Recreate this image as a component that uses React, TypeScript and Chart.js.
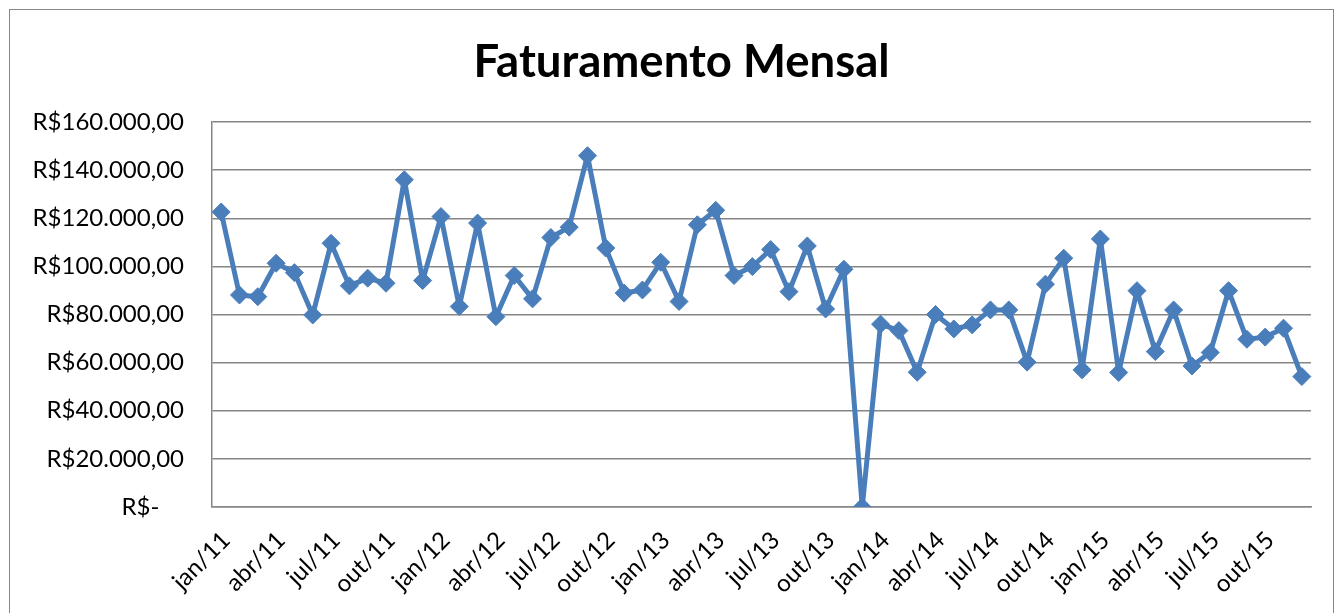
import React, { useEffect, useRef } from "react";
import { Chart, registerables } from "chart.js";

Chart.register(...registerables);

const years = ["11", "12", "13", "14", "15"];
const months = ["jan", "fev", "mar", "abr", "mai", "jun", "jul", "ago", "set", "out", "nov", "dez"];
const categories: string[] = years.flatMap((y) => months.map((m) => `${m}/${y}`));

const faturamento: number[] = [
  122600, 88100, 87400, 101300, 97400, 79800, 109600, 91900, 95100, 93000, 136000, 94100,
  120700, 83300, 118000, 79100, 96200, 86500, 112000, 116300, 146000, 107600, 88900, 90200,
  101700, 85400, 117300, 123300, 96200, 99900, 107000, 89500, 108500, 82300, 98800, 0,
  76000, 73300, 56000, 80000, 74000, 75700, 81900, 81900, 60200, 92600, 103400, 57000,
  111400, 55900, 89900, 64600, 81900, 58600, 64200, 89900, 69700, 70600, 74300, 54200,
];

const yTicks: number[] = [0, 20000, 40000, 60000, 80000, 100000, 120000, 140000, 160000];

const title = "Faturamento Mensal";

function formatBRL(v: number): string {
  if (v === 0) return "R$-    ";
  const s = Math.round(v).toString().replace(/\B(?=(\d{3})+(?!\d))/g, ".");
  return `R$${s},00`;
}

const shiftTitle = {
  id: "shiftTitle",
  afterLayout(chart: any) {
    const t = chart.titleBlock;
    if (t) {
      t.left += 13;
      t.right += 13;
    }
  },
};

export default function App() {
  const ref = useRef<HTMLCanvasElement | null>(null);

  useEffect(() => {
    document.body.style.overflow = "hidden";
    if (!ref.current) return;
    const font = "Lato, 'Noto Sans', sans-serif";
    const chart = new Chart(ref.current, {
      type: "line",
      data: {
        labels: categories,
        datasets: [
          {
            data: faturamento,
            borderColor: "#4a7ebb",
            backgroundColor: "#4a7ebb",
            borderWidth: 5,
            borderJoinStyle: "round",
            borderCapStyle: "round",
            pointStyle: "rectRot",
            pointRadius: 9,
            pointBackgroundColor: "#4a7ebb",
            pointBorderColor: "#4a7ebb",
            pointBorderWidth: 1,
            tension: 0,
          },
        ],
      },
      plugins: [shiftTitle],
      options: {
        animation: false,
        responsive: false,
        devicePixelRatio: 1,
        layout: { padding: { left: 16, right: 22, top: 0, bottom: 0 } },
        plugins: {
          legend: { display: false },
          tooltip: { enabled: false },
          title: {
            display: true,
            text: title,
            color: "#000",
            font: { family: font, size: 45.5, weight: "bold", lineHeight: 1.2 },
            padding: { top: 25, bottom: 32.4 },
          },
        },
        scales: {
          x: {
            type: "category",
            offset: true,
            grid: { display: false, drawTicks: false },
            border: { display: true, color: "#868686", width: 1.5 },
            ticks: {
              autoSkip: false,
              maxRotation: 45,
              minRotation: 45,
              padding: 19,
              labelOffset: 5,
              color: "#000",
              font: { family: font, size: 24 },
              callback: (_v: any, i: number) => (i % 3 === 0 ? categories[i] : ""),
            },
            afterFit: (s: any) => {
              s.height = 106;
              s.paddingLeft = 0;
              s.paddingRight = 0;
            },
          },
          y: {
            min: 0,
            max: 160000,
            afterBuildTicks: (s: any) => {
              s.ticks = yTicks.map((v) => ({ value: v }));
            },
            grid: { color: "#868686", lineWidth: 1.5, drawTicks: false },
            border: { display: true, color: "#868686", width: 1.5 },
            ticks: {
              padding: 28,
              color: "#000",
              font: { family: font, size: 24 },
              callback: (v: any) => formatBRL(Number(v)),
            },
            afterFit: (s: any) => {
              s.width = 186;
            },
          },
        },
      },
    });
    return () => chart.destroy();
  }, []);

  return (
    <div
      style={{
        position: "absolute",
        left: 9,
        top: 9,
        width: 1323,
        height: 603,
        borderTop: "1.5px solid #868686",
        borderLeft: "1.5px solid #868686",
        borderRight: "1.5px solid #868686",
        background: "#fff",
      }}
    >
      <canvas ref={ref} width={1323} height={603} style={{ display: "block" }} />
    </div>
  );
}
